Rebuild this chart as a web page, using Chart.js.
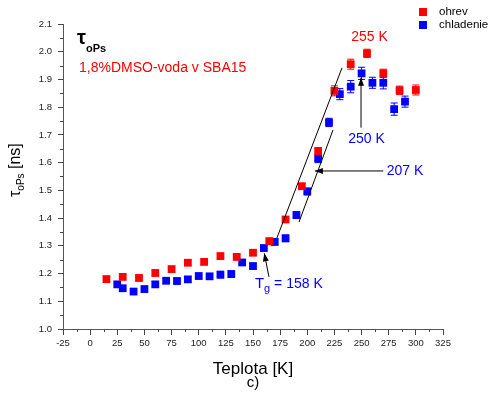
<!DOCTYPE html>
<html>
<head>
<meta charset="utf-8">
<script src="https://cdn.jsdelivr.net/npm/chart.js@4.4.1/dist/chart.umd.min.js"></script>
<style>
  html, body { margin: 0; padding: 0; background: #fff; }
  #wrap { position: relative; width: 489px; height: 400px; }
</style>
</head>
<body>
<div id="wrap"><canvas id="tauChart"></canvas></div>
<script>
// ohrev (heating) series
const tempHeat = [15, 30, 45, 60, 75, 90, 105, 120, 135, 150, 165, 180, 195, 210, 225, 240, 255, 270, 285, 300];
const tauHeat = [1.18, 1.188, 1.184, 1.202, 1.216, 1.239, 1.242, 1.263, 1.26, 1.275, 1.317, 1.395, 1.515, 1.642, 1.859, 1.955, 1.994, 1.922, 1.861, 1.862];
const errHeat = [0.01, 0.01, 0.01, 0.01, 0.01, 0.01, 0.01, 0.01, 0.01, 0.01, 0.01, 0.01, 0.01, 0.012, 0.018, 0.018, 0.015, 0.015, 0.015, 0.018];

// chladenie (cooling) series
const tempCool = [25, 30, 40, 50, 60, 70, 80, 90, 100, 110, 120, 130, 140, 150, 160, 170, 180, 190, 200, 210, 220, 230, 240, 250, 260, 270, 280, 290];
const tauCool = [1.161, 1.147, 1.135, 1.144, 1.161, 1.174, 1.173, 1.179, 1.191, 1.19, 1.196, 1.198, 1.24, 1.227, 1.292, 1.314, 1.327, 1.411, 1.496, 1.615, 1.745, 1.847, 1.874, 1.922, 1.888, 1.888, 1.793, 1.82];
const errCool = [0.01, 0.01, 0.01, 0.01, 0.01, 0.01, 0.01, 0.01, 0.01, 0.01, 0.012, 0.012, 0.01, 0.01, 0.01, 0.01, 0.012, 0.012, 0.012, 0.015, 0.015, 0.02, 0.022, 0.022, 0.02, 0.022, 0.022, 0.02];

const xTicks = { min: -25, max: 325, step: 25 };
const yTicks = { min: 1.0, max: 2.1, step: 0.1 };

const RED = '#ff0000';
const BLUE = '#0000ff';
const FONT = "'Liberation Sans', Arial, sans-serif";

// tangent lines and arrows in data units
const tangents = [
    [[172, 1.328], [232, 1.942]],
    [[192.4, 1.386], [223.7, 1.718]]
];
const arrows = [
    { from: [249.5, 1.726], to: [249.5, 1.906] },
    { from: [270, 1.570], to: [207, 1.570] },
    { from: [164.7, 1.188], to: [160.4, 1.273] }
];
const notes = [
    { text: '255 K', at: [257.3, 2.039], color: RED, align: 'center' },
    { text: '250 K', at: [254.5, 1.671], color: BLUE, align: 'center' },
    { text: '207 K', at: [290, 1.555], color: BLUE, align: 'center' }
];

function toPoints(xs, ys) {
    return xs.map((x, i) => ({ x: x, y: ys[i] }));
}

const errorBars = {
    id: 'errorBars',
    beforeDatasetsDraw(chart) {
        const ctx = chart.ctx;
        const y = chart.scales.y;
        chart.data.datasets.forEach((ds, di) => {
            const meta = chart.getDatasetMeta(di);
            ctx.save();
            ctx.strokeStyle = ds.borderColor;
            ctx.lineWidth = 1;
            meta.data.forEach((pt, i) => {
                const v = ds.data[i].y, e = ds.errors[i];
                const top = y.getPixelForValue(v + e), bot = y.getPixelForValue(v - e);
                ctx.beginPath();
                ctx.moveTo(pt.x, top); ctx.lineTo(pt.x, bot);
                ctx.moveTo(pt.x - 3.5, top); ctx.lineTo(pt.x + 3.5, top);
                ctx.moveTo(pt.x - 3.5, bot); ctx.lineTo(pt.x + 3.5, bot);
                ctx.stroke();
            });
            ctx.restore();
        });
    }
};

function arrowHead(ctx, x1, y1, x2, y2) {
    const a = Math.atan2(y2 - y1, x2 - x1);
    const len = 8, w = 3;
    ctx.beginPath();
    ctx.moveTo(x2, y2);
    ctx.lineTo(x2 - len * Math.cos(a) + w * Math.sin(a), y2 - len * Math.sin(a) - w * Math.cos(a));
    ctx.lineTo(x2 - len * Math.cos(a) - w * Math.sin(a), y2 - len * Math.sin(a) + w * Math.cos(a));
    ctx.closePath();
    ctx.fill();
}

const decorations = {
    id: 'decorations',
    afterDraw(chart) {
        const ctx = chart.ctx;
        const sx = chart.scales.x, sy = chart.scales.y;
        const area = chart.chartArea;
        const px = (p) => [sx.getPixelForValue(p[0]), sy.getPixelForValue(p[1])];
        ctx.save();

        // minor ticks
        ctx.strokeStyle = '#444';
        ctx.lineWidth = 1;
        ctx.beginPath();
        for (let v = xTicks.min + xTicks.step / 2; v < xTicks.max; v += xTicks.step) {
            const x = Math.round(sx.getPixelForValue(v)) + 0.5;
            ctx.moveTo(x, area.bottom); ctx.lineTo(x, area.bottom + 3);
        }
        for (let v = yTicks.min + yTicks.step / 2; v < yTicks.max; v += yTicks.step) {
            const y = Math.round(sy.getPixelForValue(v)) + 0.5;
            ctx.moveTo(area.left, y); ctx.lineTo(area.left - 3, y);
        }
        ctx.stroke();

        // tangents and arrows
        ctx.strokeStyle = '#000';
        ctx.fillStyle = '#000';
        tangents.forEach(seg => {
            const a = px(seg[0]), b = px(seg[1]);
            ctx.beginPath(); ctx.moveTo(a[0], a[1]); ctx.lineTo(b[0], b[1]); ctx.stroke();
        });
        arrows.forEach(ar => {
            const a = px(ar.from), b = px(ar.to);
            ctx.beginPath(); ctx.moveTo(a[0], a[1]); ctx.lineTo(b[0], b[1]); ctx.stroke();
            arrowHead(ctx, a[0], a[1], b[0], b[1]);
        });

        // value notes
        ctx.font = '14px ' + FONT;
        ctx.textBaseline = 'alphabetic';
        notes.forEach(n => {
            const p = px(n.at);
            ctx.fillStyle = n.color;
            ctx.textAlign = n.align;
            ctx.fillText(n.text, p[0], p[1]);
        });

        // T_g label
        const tg = px([151.8, 1.148]);
        ctx.fillStyle = BLUE;
        ctx.textAlign = 'left';
        ctx.font = '15px ' + FONT;
        ctx.fillText('T', tg[0], tg[1]);
        let w = ctx.measureText('T').width;
        ctx.font = '11px ' + FONT;
        ctx.fillText('g', tg[0] + w, tg[1] + 4);
        w += ctx.measureText('g').width;
        ctx.font = '14px ' + FONT;
        ctx.fillText(' = 158 K', tg[0] + w, tg[1]);

        // panel heading
        ctx.fillStyle = '#000';
        ctx.font = 'bold 20px ' + FONT;
        ctx.fillText('τ', area.left + 14, area.top + 20);
        const tw = ctx.measureText('τ').width;
        ctx.font = 'bold 11px ' + FONT;
        ctx.fillText('oPs', area.left + 14 + tw, area.top + 28);
        ctx.fillStyle = RED;
        ctx.font = '14px ' + FONT;
        ctx.fillText('1,8%DMSO-voda v SBA15', area.left + 16, area.top + 48);

        // legend
        const lg = [['ohrev', RED], ['chladenie', BLUE]];
        ctx.font = '11.5px ' + FONT;
        ctx.textBaseline = 'middle';
        lg.forEach((item, i) => {
            const cy = 12 + i * 13;
            ctx.fillStyle = item[1];
            ctx.fillRect(419, cy - 4, 8, 8);
            ctx.fillStyle = '#000';
            ctx.fillText(item[0], 439, cy);
        });

        // axis titles
        ctx.textBaseline = 'alphabetic';
        ctx.textAlign = 'center';
        ctx.fillStyle = '#000';
        const cx = (area.left + area.right) / 2;
        ctx.font = '17px ' + FONT;
        ctx.fillText('Teplota [K]', cx, area.bottom + 45);
        ctx.font = '15px ' + FONT;
        ctx.fillText('c)', cx, area.bottom + 58);

        // rotated y title
        ctx.translate(20, 197);
        ctx.rotate(-Math.PI / 2);
        ctx.textAlign = 'left';
        ctx.font = '16px ' + FONT;
        ctx.fillText('τ', 0, 0);
        let off = ctx.measureText('τ').width;
        ctx.font = '10px ' + FONT;
        ctx.fillText('oPs', off, 4);
        off += ctx.measureText('oPs').width;
        ctx.font = '16px ' + FONT;
        ctx.fillText(' [ns]', off, 0);
        ctx.restore();
    }
};

const ctx = document.getElementById('tauChart').getContext('2d');
new Chart(ctx, {
    type: 'scatter',
    data: {
        datasets: [{
            label: 'ohrev',
            data: toPoints(tempHeat, tauHeat),
            errors: errHeat,
            backgroundColor: RED,
            borderColor: RED,
            pointStyle: 'rect',
            pointRadius: 5.5,
            pointBorderWidth: 0
        }, {
            label: 'chladenie',
            data: toPoints(tempCool, tauCool),
            errors: errCool,
            backgroundColor: BLUE,
            borderColor: BLUE,
            pointStyle: 'rect',
            pointRadius: 5.5,
            pointBorderWidth: 0
        }]
    },
    options: {
        responsive: true,
        maintainAspectRatio: false,
        animation: false,
        layout: {
            padding: { top: 24, right: 46, left: 0, bottom: 0 }
        },
        plugins: {
            legend: { display: false },
            tooltip: { enabled: false }
        },
        scales: {
            x: {
                type: 'linear',
                min: xTicks.min,
                max: xTicks.max,
                afterFit: (s) => { s.height = 71; },
                border: { color: '#555', width: 1 },
                grid: { drawOnChartArea: false, tickLength: 6, tickColor: '#444' },
                ticks: {
                    stepSize: xTicks.step,
                    padding: 3,
                    maxRotation: 0,
                    color: '#222',
                    font: { family: FONT, size: 9.5 }
                }
            },
            y: {
                min: yTicks.min,
                max: yTicks.max,
                afterFit: (s) => { s.width = 63; },
                border: { color: '#555', width: 1 },
                grid: { drawOnChartArea: false, tickLength: 5, tickColor: '#444' },
                ticks: {
                    stepSize: yTicks.step,
                    padding: 6,
                    color: '#222',
                    font: { family: FONT, size: 9.5 },
                    callback: (v) => v.toFixed(1)
                }
            }
        }
    },
    plugins: [errorBars, decorations]
});
</script>
</body>
</html>
